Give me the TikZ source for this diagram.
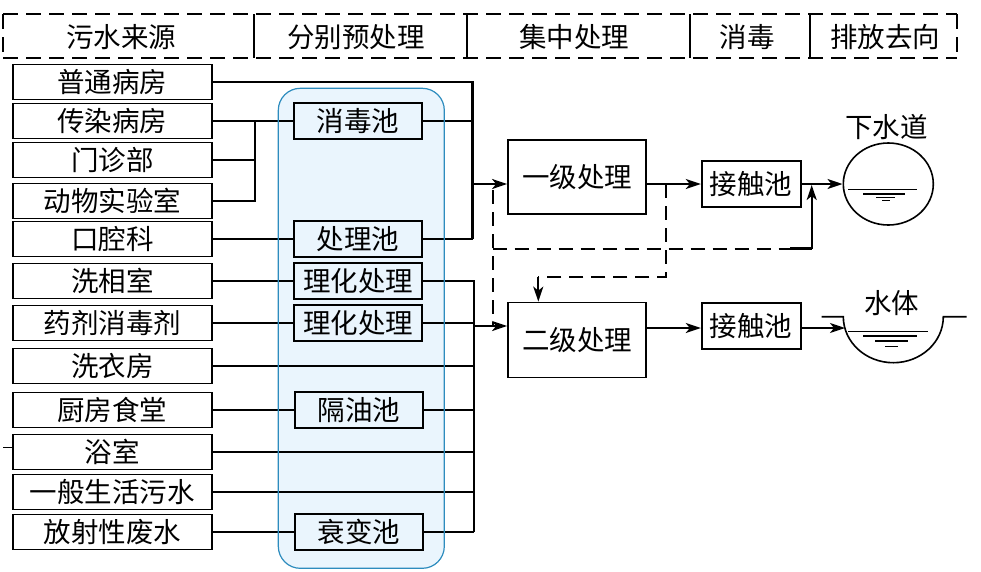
\documentclass[tikz,border=0pt]{standalone}
\usepackage{fontspec}
\setmainfont{Noto Sans CJK SC}
\usetikzlibrary{arrows.meta,shapes.geometric}
\definecolor{blfill}{RGB}{234,245,253}
\definecolor{bldraw}{RGB}{45,140,190}
\begin{document}
\begin{tikzpicture}[x=1pt,y=-1pt,
  every node/.style={font=\fontsize{27.5}{28}\selectfont, inner sep=0pt},
  srcbox/.style={draw, line width=1.8pt, minimum width=199pt, minimum height=35pt},
  prebox/.style={draw, line width=1.8pt, minimum width=128pt, minimum height=36pt},
  procbox/.style={draw, line width=1.8pt, minimum width=138pt, minimum height=74pt},
  jcbox/.style={draw, line width=1.8pt, minimum width=99pt, minimum height=46pt},
  conn/.style={line width=2.1pt},
  arr/.style={conn, -{Stealth[length=15pt,width=10pt,inset=4pt]}},
  dsh/.style={line width=2pt, dash pattern=on 14pt off 8pt},
  hdr/.style={line width=1.7pt, dash pattern=on 15pt off 8pt},
  hdrsolid/.style={line width=1.7pt},
  water/.style={line width=1.4pt}
]
\fill[white] (0,0) rectangle (981,571);
\useasboundingbox (0,0) rectangle (981,571);

% blue pretreatment band (fill)
\fill[blfill, rounded corners=22pt] (278.3,88.3) rectangle (444.3,568.3);

% ---------- header ----------
\draw[hdr] (3.3,14) -- (956.7,14);
\draw[hdr] (3.3,58.3) -- (956.7,58.3);
\draw[hdr] (3.3,14) -- (3.3,58.3);
\draw[hdr] (956.7,14) -- (956.7,58.3);
\draw[hdrsolid] (254,14) -- (254,58.3);
\draw[hdrsolid] (466.7,14) -- (466.7,58.3);
\draw[hdrsolid] (690,14) -- (690,58.3);
\draw[hdrsolid] (810,14) -- (810,58.3);
\node (h1) at (121,37) {污水来源};
\node (h2) at (356,37) {分别预处理};
\node (h3) at (574,37) {集中处理};
\node (h4) at (747,37) {消毒};
\node (h5) at (885,37) {排放去向};

% ---------- sources ----------
\node[srcbox] (s1) at (112.3,82) {普通病房};
\node[srcbox] (s2) at (112.3,121) {传染病房};
\node[srcbox] (s3) at (112.3,160) {门诊部};
\node[srcbox] (s4) at (112.3,201) {动物实验室};
\node[srcbox] (s5) at (112.3,239) {口腔科};
\node[srcbox] (s6) at (112.3,281) {洗相室};
\node[srcbox] (s7) at (112.3,323) {药剂消毒剂};
\node[srcbox] (s8) at (112.3,366) {洗衣房};
\node[srcbox] (s9) at (112.3,410) {厨房食堂};
\node[srcbox] (s10) at (112.3,452) {浴室};
\node[srcbox] (s11) at (112.3,492) {一般生活污水};
\node[srcbox] (s12) at (112.3,532) {放射性废水};

% ---------- pretreatment ----------
\node[prebox] (p1) at (358,121) {消毒池};
\node[prebox] (p2) at (358,239) {处理池};
\node[prebox] (q1) at (358,281) {理化处理};
\node[prebox] (q2) at (358,323) {理化处理};
\node[prebox] (q3) at (359,410) {隔油池};
\node[prebox] (q4) at (359,532) {衰变池};

% ---------- central treatment ----------
\node[procbox] (yj) at (577,177) {一级处理};
\node[procbox, minimum height=75pt] (ej) at (577,340) {二级处理};
\node[jcbox] (c1) at (751.2,184) {接触池};
\node[jcbox] (c2) at (751.2,326) {接触池};

% ---------- discharge ----------
\node[draw, ellipse, line width=1.6pt, minimum width=90pt, minimum height=82pt] (sw) at (888.3,184) {};
\node (lsw) at (886.7,127) {下水道};
\node (lst) at (891.7,303.5) {水体};

% bus coordinates
\coordinate (b1t) at (472.5,82);
\coordinate (b1b) at (472.5,239);
\coordinate (b2t) at (474,281);
\coordinate (b2b) at (474,532);
\coordinate (g) at (255,121);
\coordinate (a1) at (472.5,184);
\coordinate (a2) at (474,326);

% left connectors
\draw[conn] (s1.east) -- (b1t) -- (b1b);
\draw[conn] (s2.east) -- (p1.west);
\draw[conn] (s3.east) -- (s3.east -| g);
\draw[conn] (s4.east) -| (g);
\draw[conn] (s5.east) -- (p2.west);
\draw[conn] (p1.east) -- (p1.east -| b1t);
\draw[conn] (p2.east) -- (p2.east -| b1t);

\draw[conn] (s6.east) -- (q1.west);
\draw[conn] (s7.east) -- (q2.west);
\draw[conn] (s9.east) -- (q3.west);
\draw[conn] (s12.east) -- (q4.west);
\draw[conn] (q1.east) -- (b2t) -- (b2b);
\draw[conn] (q2.east) -- (q2.east -| b2t);
\draw[conn] (s8.east) -- (s8.east -| b2t);
\draw[conn] (q3.east) -- (q3.east -| b2t);
\draw[conn] (s10.east) -- (s10.east -| b2t);
\draw[conn] (s11.east) -- (s11.east -| b2t);
\draw[conn] (q4.east) -- (b2b);

% stray tick at far left
\draw[line width=1pt] (3,447) -- (s10.west |- 0,447);

% main arrows
\draw[arr] (a1) -- (a1 -| yj.west);
\draw[arr] (a2) -- (a2 -| ej.west);
\draw[arr] (yj.east |- c1.west) -- (c1.west);
\coordinate (e2) at (646,328);
\draw[arr] (ej.east |- e2) -- (e2 -| c2.west);
\draw[arr] (c1.east) -- (sw.west);
\coordinate (wbin) at (845,328);
\draw[arr] (c2.east |- wbin) -- (wbin);

% dashed bypasses
\coordinate (dv) at (492.7,190);
\coordinate (dm) at (492.7,248.5);
\coordinate (dr) at (811.7,248.5);
\draw[dsh] (dv) -- (492.7,326);
\draw[dsh] (dm) -- (790,248.5);
\draw[conn] (790,248.5) -- (dr);
\draw[arr] (dr) -- (811.7,185);
\coordinate (d3a) at (666,184);
\coordinate (d3b) at (666,277.3);
\coordinate (d3c) at (538.3,277.3);
\draw[dsh] (d3a) -- (d3b) -- (d3c);
\draw[arr] (d3c) -- (d3c |- ej.north);

% sewer water marks
\draw[water] (848,189.3) -- (916.7,189.3);
\draw[water] (863.3,194) -- (905,194);
\draw[water] (876,197.5) -- (895,197.5);
\draw[water] (882,200.7) -- (890,200.7);

% water body
\draw[line width=1.6pt] (821.7,316.7) -- (843.3,316.7) arc[start angle=180, end angle=0, x radius=50, y radius=46] -- (966.7,316.7);
\draw[water] (848.3,331.7) -- (928.3,331.7);
\draw[water] (863.3,336) -- (916.7,336);
\draw[water] (875,341) -- (908,341);
\draw[water] (885,346.7) -- (898.3,346.7);

% blue band border on top
\draw[bldraw, line width=1.2pt, rounded corners=22pt] (278.3,88.3) rectangle (444.3,568.3);
\end{tikzpicture}
\end{document}
